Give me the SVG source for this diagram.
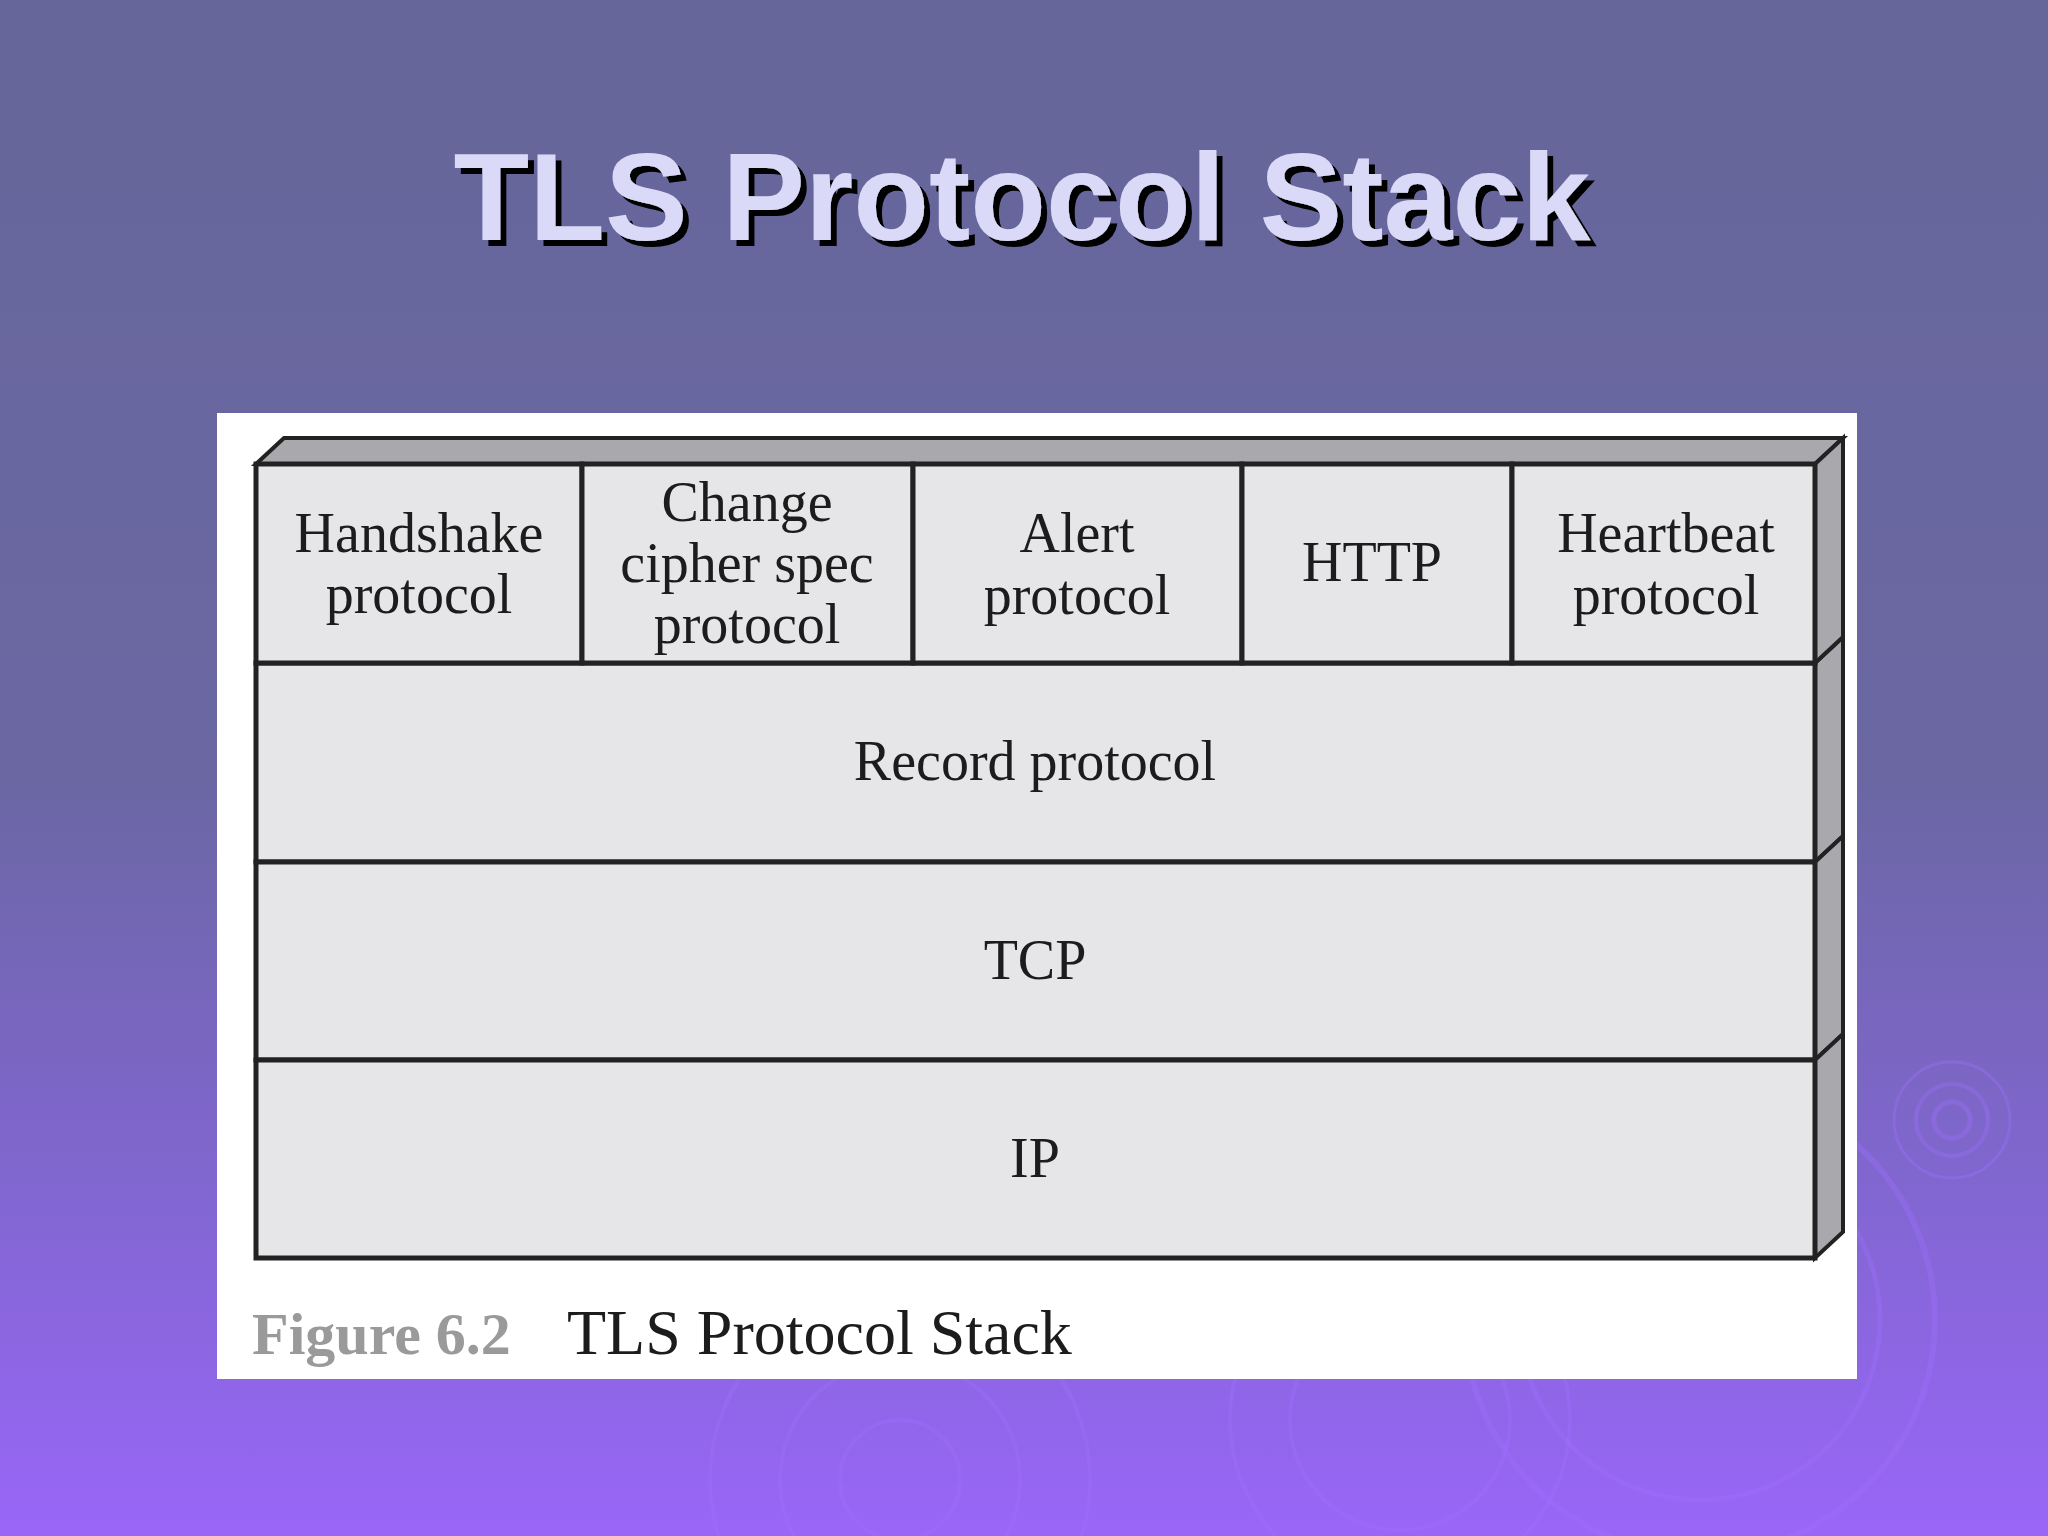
<svg xmlns="http://www.w3.org/2000/svg" width="2048" height="1536" viewBox="0 0 2048 1536">
  <defs>
    <linearGradient id="bg" x1="0" y1="0" x2="0" y2="1">
      <stop offset="0" stop-color="#66669a"/>
      <stop offset="0.5" stop-color="#6a67a2"/>
      <stop offset="0.78" stop-color="#8266d2"/>
      <stop offset="1" stop-color="#9a66f8"/>
    </linearGradient>
    <filter id="shadow" x="-5%" y="-20%" width="110%" height="140%">
      <feOffset in="SourceAlpha" dx="6" dy="6" result="off"/>
      <feFlood flood-color="#000000"/>
      <feComposite in2="off" operator="in" result="sh"/>
      <feMerge>
        <feMergeNode in="sh"/>
        <feMergeNode in="SourceGraphic"/>
      </feMerge>
    </filter>
    <style>
      .front { fill: #e6e6e8; stroke: #222; stroke-width: 5; stroke-linejoin: miter; }
      .side { fill: #a9a9ad; stroke: #222; stroke-width: 4; stroke-linejoin: miter; }
      .lbl { font-family: "Liberation Serif", "Times New Roman", serif; font-size: 56px; fill: #1c1c1c; text-anchor: middle; }
      .ring { fill: none; stroke: #a070ff; stroke-opacity: 0.35; }
      .title { font-family: "Liberation Sans", Arial, sans-serif; font-weight: bold; font-size: 124px; text-anchor: middle; }
    </style>
  </defs>

  <rect x="0" y="0" width="2048" height="1536" fill="url(#bg)"/>

  <g id="decor">
    <circle class="ring" cx="1952" cy="1120" r="18" stroke-width="5"/>
    <circle class="ring" cx="1952" cy="1120" r="36" stroke-width="4"/>
    <circle class="ring" cx="1952" cy="1120" r="58" stroke-width="3"/>
    <circle class="ring" cx="1700" cy="1320" r="180" stroke-width="5"/>
    <circle class="ring" cx="1700" cy="1320" r="235" stroke-width="6"/>
    <circle class="ring" cx="1400" cy="1420" r="110" stroke-width="4"/>
    <circle class="ring" cx="1400" cy="1420" r="170" stroke-width="4"/>
    <circle class="ring" cx="900" cy="1480" r="60" stroke-width="4"/>
    <circle class="ring" cx="900" cy="1480" r="120" stroke-width="4"/>
    <circle class="ring" cx="900" cy="1480" r="190" stroke-width="4"/>
  </g>

  <g id="title">
    <text class="title" x="1022" y="240" fill="#dadaf8" filter="url(#shadow)">TLS Protocol Stack</text>
  </g>

  <rect id="panel" x="217" y="413" width="1640" height="966" fill="#ffffff"/>

  <g id="stack">
    <polygon class="side" points="256,464 284,438 1843,438 1815,464"/>

    <g id="record">
      <polygon class="side" points="1815,663 1843,637 1843,836 1815,862"/>
      <rect class="front" x="256" y="663" width="1559" height="199"/>
      <text class="lbl" x="1035" y="780">Record protocol</text>
    </g>
    <g id="tcp">
      <polygon class="side" points="1815,862 1843,836 1843,1034 1815,1060"/>
      <rect class="front" x="256" y="862" width="1559" height="198"/>
      <text class="lbl" x="1035" y="979">TCP</text>
    </g>
    <g id="ip">
      <polygon class="side" points="1815,1060 1843,1034 1843,1232 1815,1258"/>
      <rect class="front" x="256" y="1060" width="1559" height="198"/>
      <text class="lbl" x="1035" y="1177">IP</text>
    </g>

    <polygon class="side" points="1815,464 1843,438 1843,637 1815,663"/>
    <g id="handshake">
      <rect class="front" x="256" y="464" width="326" height="199"/>
      <text class="lbl" x="419" y="552">Handshake</text>
      <text class="lbl" x="419" y="613">protocol</text>
    </g>
    <g id="change-cipher-spec">
      <rect class="front" x="582" y="464" width="331" height="199"/>
      <text class="lbl" x="747" y="521">Change</text>
      <text class="lbl" x="747" y="582">cipher spec</text>
      <text class="lbl" x="747" y="643">protocol</text>
    </g>
    <g id="alert">
      <rect class="front" x="913" y="464" width="329" height="199"/>
      <text class="lbl" x="1077" y="552">Alert</text>
      <text class="lbl" x="1077" y="614">protocol</text>
    </g>
    <g id="http">
      <rect class="front" x="1242" y="464" width="270" height="199"/>
      <text class="lbl" x="1372" y="581">HTTP</text>
    </g>
    <g id="heartbeat">
      <rect class="front" x="1512" y="464" width="303" height="199"/>
      <text class="lbl" x="1666" y="552">Heartbeat</text>
      <text class="lbl" x="1666" y="614">protocol</text>
    </g>
  </g>

  <g id="caption">
    <text x="252" y="1354" font-family="Liberation Serif, 'Times New Roman', serif" font-weight="bold" font-size="60" fill="#9a9a9a">Figure 6.2</text>
    <text x="567" y="1354" font-family="Liberation Serif, 'Times New Roman', serif" font-size="64" fill="#1c1c1c">TLS Protocol Stack</text>
  </g>
</svg>
